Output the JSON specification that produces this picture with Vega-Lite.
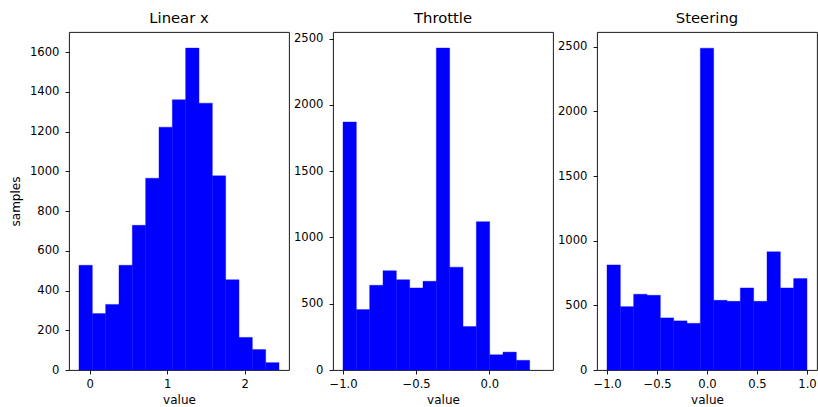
{
  "$schema": "https://vega.github.io/schema/vega-lite/v6.json",
  "padding": {"left": 9, "top": 10, "right": 0, "bottom": 0},
  "bounds": "flush",
  "spacing": 44,
  "data": {
    "values": [
      {"panel": "Linear x", "lo": -0.139, "hi": 0.0331, "samples": 527},
      {"panel": "Linear x", "lo": 0.0331, "hi": 0.2053, "samples": 284},
      {"panel": "Linear x", "lo": 0.2053, "hi": 0.3774, "samples": 330},
      {"panel": "Linear x", "lo": 0.3774, "hi": 0.5495, "samples": 527},
      {"panel": "Linear x", "lo": 0.5495, "hi": 0.7217, "samples": 728},
      {"panel": "Linear x", "lo": 0.7217, "hi": 0.8938, "samples": 965},
      {"panel": "Linear x", "lo": 0.8938, "hi": 1.0659, "samples": 1222},
      {"panel": "Linear x", "lo": 1.0659, "hi": 1.238, "samples": 1360},
      {"panel": "Linear x", "lo": 1.238, "hi": 1.4102, "samples": 1620},
      {"panel": "Linear x", "lo": 1.4102, "hi": 1.5823, "samples": 1343},
      {"panel": "Linear x", "lo": 1.5823, "hi": 1.7544, "samples": 977},
      {"panel": "Linear x", "lo": 1.7544, "hi": 1.9266, "samples": 454},
      {"panel": "Linear x", "lo": 1.9266, "hi": 2.0987, "samples": 164},
      {"panel": "Linear x", "lo": 2.0987, "hi": 2.2708, "samples": 103},
      {"panel": "Linear x", "lo": 2.2708, "hi": 2.443, "samples": 37},

      {"panel": "Throttle", "lo": -1.0, "hi": -0.9089, "samples": 1871},
      {"panel": "Throttle", "lo": -0.9089, "hi": -0.8177, "samples": 456},
      {"panel": "Throttle", "lo": -0.8177, "hi": -0.7266, "samples": 639},
      {"panel": "Throttle", "lo": -0.7266, "hi": -0.6354, "samples": 749},
      {"panel": "Throttle", "lo": -0.6354, "hi": -0.5443, "samples": 681},
      {"panel": "Throttle", "lo": -0.5443, "hi": -0.4532, "samples": 619},
      {"panel": "Throttle", "lo": -0.4532, "hi": -0.362, "samples": 669},
      {"panel": "Throttle", "lo": -0.362, "hi": -0.2709, "samples": 2429},
      {"panel": "Throttle", "lo": -0.2709, "hi": -0.1797, "samples": 776},
      {"panel": "Throttle", "lo": -0.1797, "hi": -0.0886, "samples": 328},
      {"panel": "Throttle", "lo": -0.0886, "hi": 0.0025, "samples": 1119},
      {"panel": "Throttle", "lo": 0.0025, "hi": 0.0937, "samples": 115},
      {"panel": "Throttle", "lo": 0.0937, "hi": 0.1848, "samples": 135},
      {"panel": "Throttle", "lo": 0.1848, "hi": 0.276, "samples": 73},

      {"panel": "Steering", "lo": -1.0, "hi": -0.8667, "samples": 813},
      {"panel": "Steering", "lo": -0.8667, "hi": -0.7333, "samples": 490},
      {"panel": "Steering", "lo": -0.7333, "hi": -0.6, "samples": 586},
      {"panel": "Steering", "lo": -0.6, "hi": -0.4667, "samples": 578},
      {"panel": "Steering", "lo": -0.4667, "hi": -0.3333, "samples": 403},
      {"panel": "Steering", "lo": -0.3333, "hi": -0.2, "samples": 380},
      {"panel": "Steering", "lo": -0.2, "hi": -0.0667, "samples": 361},
      {"panel": "Steering", "lo": -0.0667, "hi": 0.0667, "samples": 2490},
      {"panel": "Steering", "lo": 0.0667, "hi": 0.2, "samples": 539},
      {"panel": "Steering", "lo": 0.2, "hi": 0.3333, "samples": 531},
      {"panel": "Steering", "lo": 0.3333, "hi": 0.4667, "samples": 635},
      {"panel": "Steering", "lo": 0.4667, "hi": 0.6, "samples": 531},
      {"panel": "Steering", "lo": 0.6, "hi": 0.7333, "samples": 914},
      {"panel": "Steering", "lo": 0.7333, "hi": 0.8667, "samples": 635},
      {"panel": "Steering", "lo": 0.8667, "hi": 1.0, "samples": 707}
    ]
  },
  "hconcat": [
    {
      "title": "Linear x",
      "width": 220,
      "height": 338,
      "transform": [{"filter": "datum.panel === 'Linear x'"}],
      "mark": {"type": "bar", "color": "#0000ff", "stroke": "#0000ff", "strokeWidth": 0.4},
      "encoding": {
        "x": {
          "field": "lo", "type": "quantitative",
          "scale": {"domain": [-0.268, 2.572], "nice": false, "zero": false},
          "axis": {"values": [0, 1, 2], "format": "d", "title": "value"}
        },
        "x2": {"field": "hi"},
        "y": {
          "field": "samples", "type": "quantitative",
          "scale": {"domain": [0, 1701], "nice": false},
          "axis": {"values": [0, 200, 400, 600, 800, 1000, 1200, 1400, 1600], "format": "d", "title": "samples"}
        },
        "y2": {"datum": 0}
      }
    },
    {
      "title": "Throttle",
      "width": 220,
      "height": 338,
      "transform": [{"filter": "datum.panel === 'Throttle'"}],
      "mark": {"type": "bar", "color": "#0000ff", "stroke": "#0000ff", "strokeWidth": 0.4},
      "encoding": {
        "x": {
          "field": "lo", "type": "quantitative",
          "scale": {"domain": [-1.0684, 0.4355], "nice": false, "zero": false},
          "axis": {"values": [-1.0, -0.5, 0.0], "format": ".1f", "title": "value"}
        },
        "x2": {"field": "hi"},
        "y": {
          "field": "samples", "type": "quantitative",
          "scale": {"domain": [0, 2550], "nice": false},
          "axis": {"values": [0, 500, 1000, 1500, 2000, 2500], "format": "d", "title": null}
        },
        "y2": {"datum": 0}
      }
    },
    {
      "title": "Steering",
      "width": 220,
      "height": 338,
      "transform": [{"filter": "datum.panel === 'Steering'"}],
      "mark": {"type": "bar", "color": "#0000ff", "stroke": "#0000ff", "strokeWidth": 0.4},
      "encoding": {
        "x": {
          "field": "lo", "type": "quantitative",
          "scale": {"domain": [-1.1, 1.1], "nice": false, "zero": false},
          "axis": {"values": [-1.0, -0.5, 0.0, 0.5, 1.0], "format": ".1f", "title": "value"}
        },
        "x2": {"field": "hi"},
        "y": {
          "field": "samples", "type": "quantitative",
          "scale": {"domain": [0, 2615], "nice": false},
          "axis": {"values": [0, 500, 1000, 1500, 2000, 2500], "format": "d", "title": null}
        },
        "y2": {"datum": 0}
      }
    }
  ],
  "config": {
    "font": "DejaVu Sans",
    "view": {"stroke": "#000000", "strokeWidth": 0.9},
    "axis": {
      "grid": false,
      "domain": false,
      "tickColor": "#000000",
      "tickSize": 4,
      "tickWidth": 0.9,
      "labelPadding": 4,
      "labelFont": "DejaVu Sans",
      "labelFontSize": 11.6,
      "labelColor": "#000000",
      "titleFont": "DejaVu Sans",
      "titleFontSize": 12,
      "titleFontWeight": "normal",
      "titleColor": "#000000",
      "titlePadding": 5,
      "labelFlush": false,
      "labelOverlap": false
    },
    "axisY": {"labelPadding": 6, "titlePadding": 7},
    "title": {
      "font": "DejaVu Sans",
      "fontSize": 14.8,
      "fontWeight": "normal",
      "color": "#000000",
      "offset": 6.5
    }
  }
}
